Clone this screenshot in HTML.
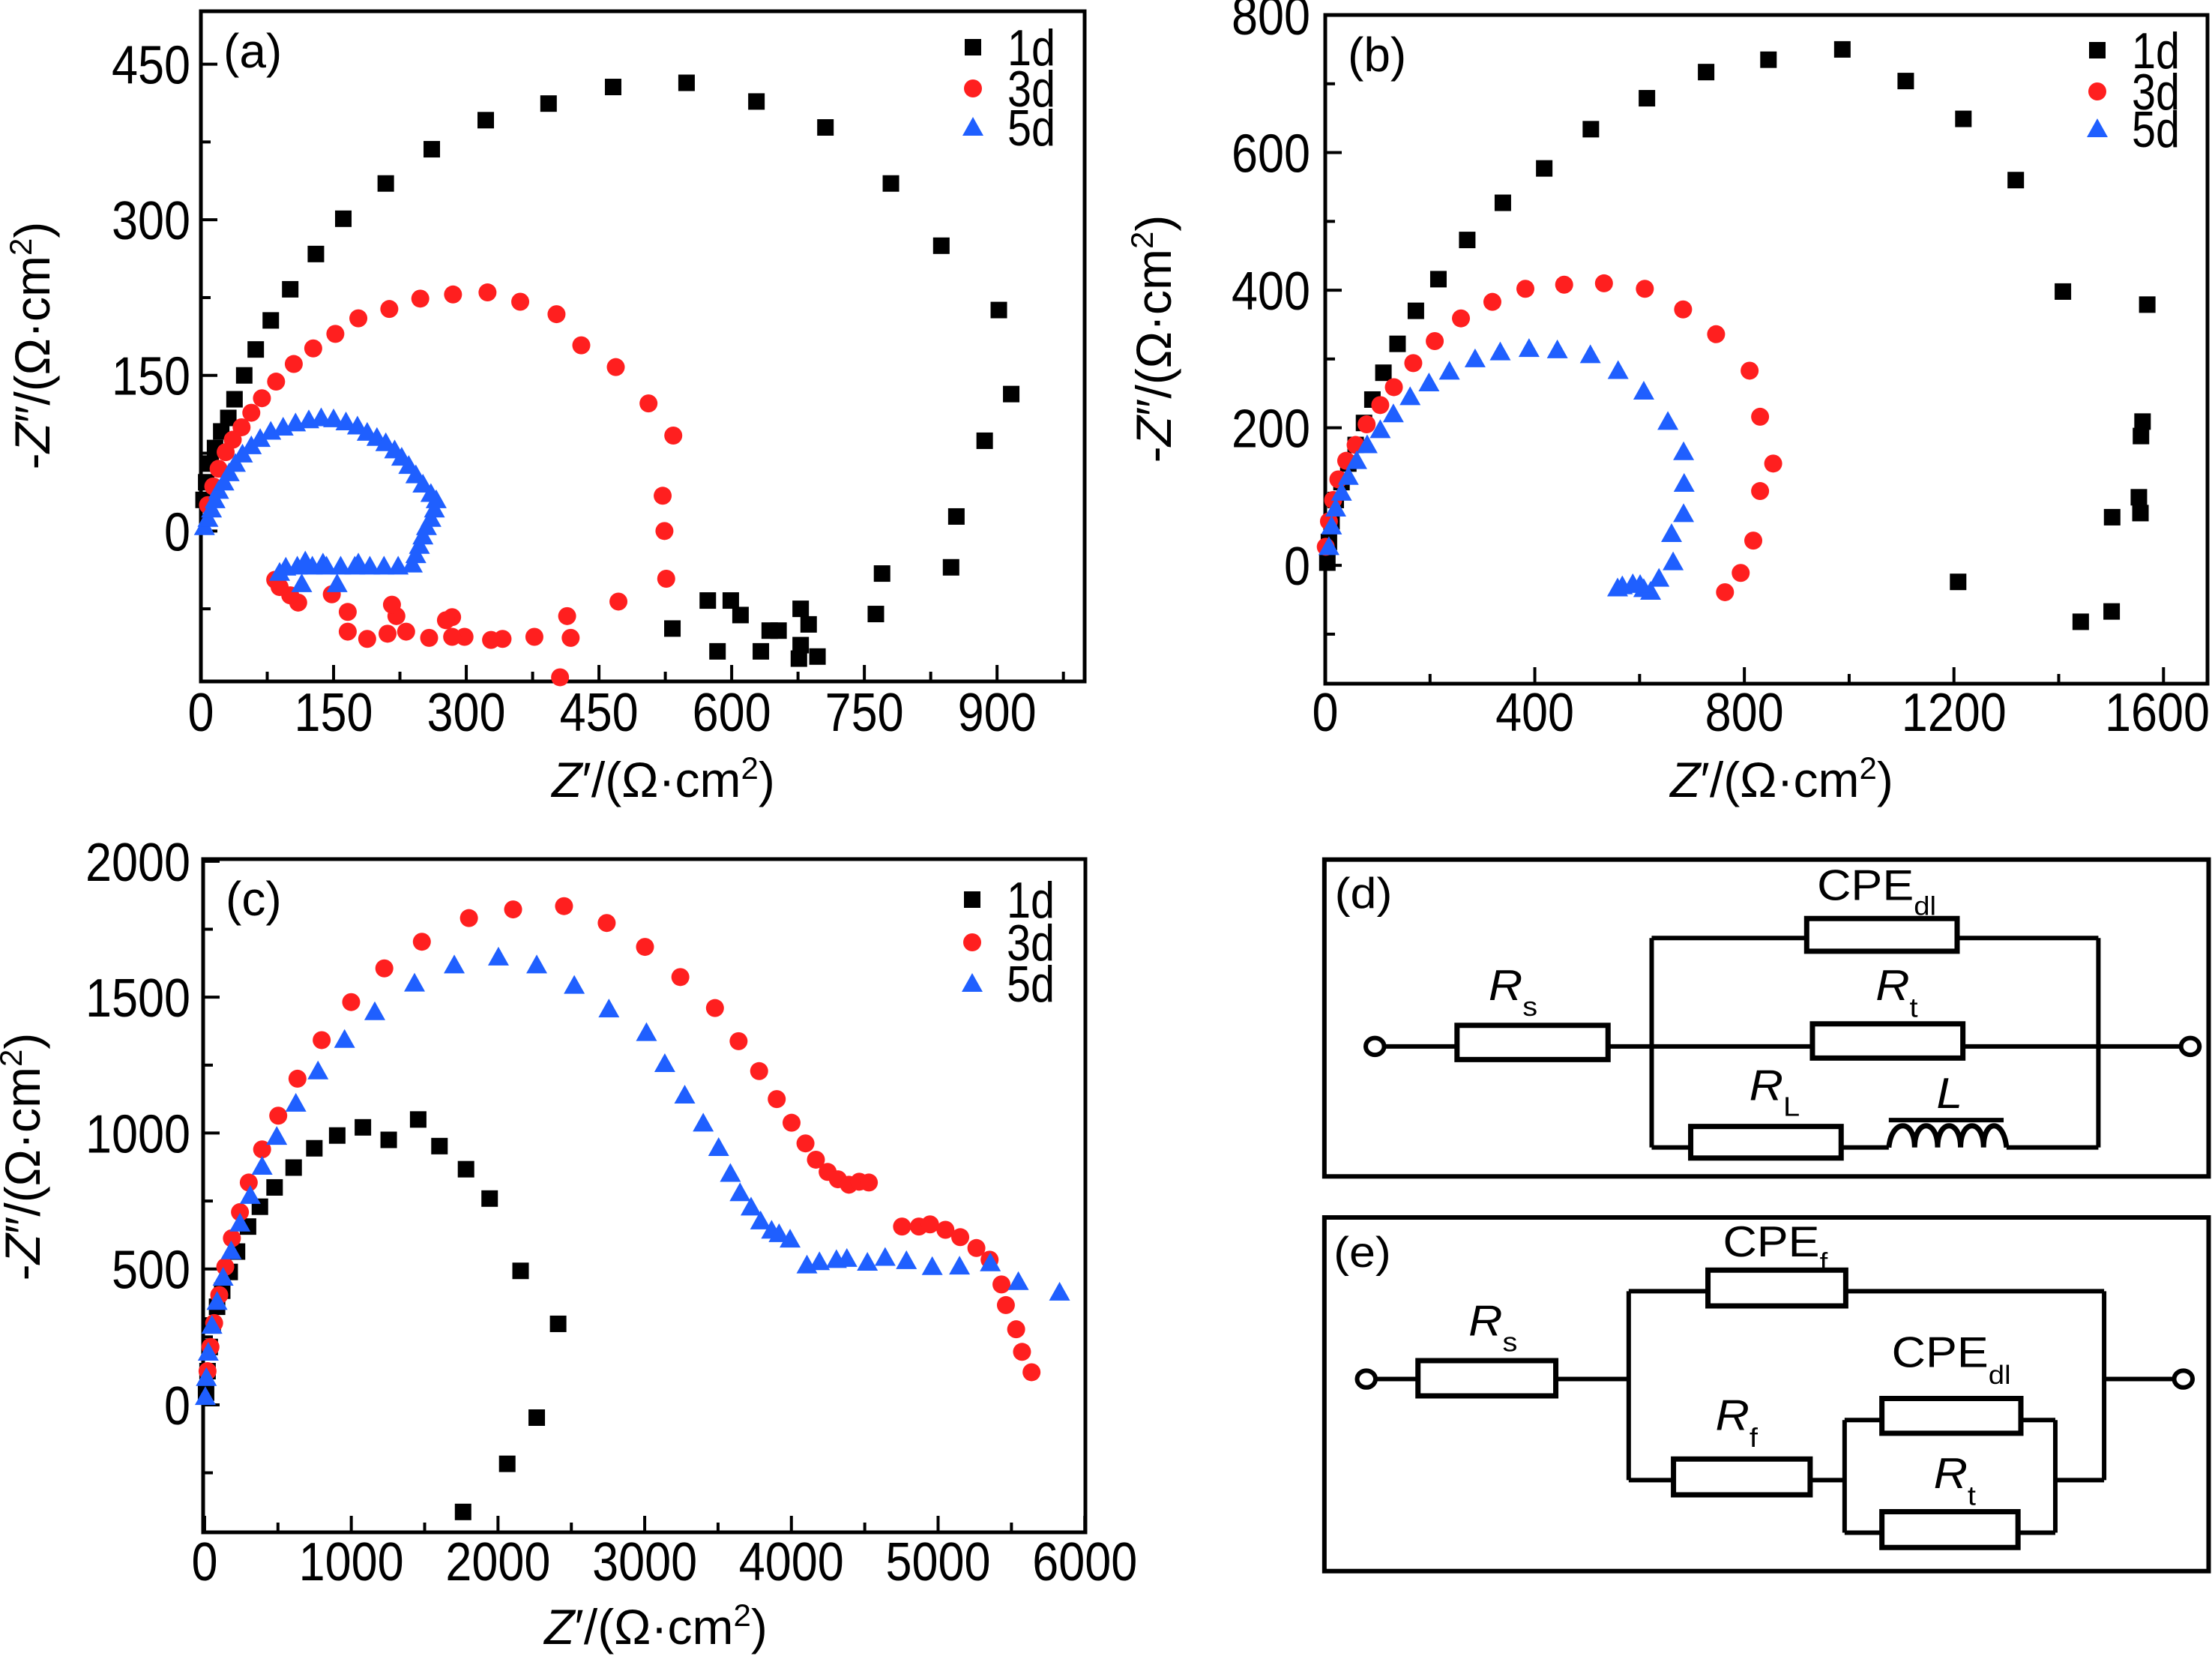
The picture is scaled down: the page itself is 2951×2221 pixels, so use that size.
<!DOCTYPE html>
<html><head><meta charset="utf-8"><style>
html,body{margin:0;padding:0;background:#fff}
svg{display:block}
text{font-family:"Liberation Sans",Arial,sans-serif;fill:#000}
</style></head><body>
<svg id="fig" xmlns="http://www.w3.org/2000/svg" width="2951" height="2221" viewBox="0 0 2951 2221">
<g id="circuits" transform="translate(1750,1120) scale(0.766,0.702)" fill="none" stroke="#000">
 <g>
  <rect x="22" y="38" width="1540" height="602" stroke-width="6" vector-effect="non-scaling-stroke"/>
  <path stroke-width="6" vector-effect="non-scaling-stroke" d="M126,393H253 M516,393H872 M1134,393H1514 M592,187V585 M1370,187V585 M592,187H862 M1124,187H1370 M592,585H660 M922,585H1005 M1210,585H1370 M1005,533H1205"/>
  <circle cx="110" cy="393" r="16" stroke-width="6" vector-effect="non-scaling-stroke"/>
  <circle cx="1530" cy="393" r="16" stroke-width="6" vector-effect="non-scaling-stroke"/>
  <rect x="253" y="353" width="263" height="65" stroke-width="7" vector-effect="non-scaling-stroke"/>
  <rect x="872" y="350" width="262" height="65" stroke-width="7" vector-effect="non-scaling-stroke"/>
  <rect x="862" y="150" width="262" height="62" stroke-width="7" vector-effect="non-scaling-stroke"/>
  <rect x="660" y="545" width="262" height="60" stroke-width="7" vector-effect="non-scaling-stroke"/>
  <path stroke-width="7" vector-effect="non-scaling-stroke" d="M1005,585 C1010,530 1050,530 1050,585 C1050,530 1090,530 1090,585 C1090,530 1130,530 1130,585 C1130,530 1170,530 1170,585 C1170,530 1205,530 1210,585"/>
 </g>
 <g stroke="none" fill="#000" font-size="82">
  <text x="40" y="130">(d)</text>
  <text x="880" y="115">CPE<tspan font-size="50" dy="28">dl</tspan></text>
  <text x="308" y="305"><tspan font-style="italic">R</tspan><tspan font-size="52" dy="30">s</tspan></text>
  <text x="982" y="305"><tspan font-style="italic">R</tspan><tspan font-size="52" dy="32">t</tspan></text>
  <text x="762" y="495"><tspan font-style="italic">R</tspan><tspan font-size="52" dy="30">L</tspan></text>
  <text x="1088" y="510" font-style="italic">L</text>
 </g>
 <g>
  <rect x="22" y="718" width="1540" height="672" stroke-width="6" vector-effect="non-scaling-stroke"/>
  <path stroke-width="6" vector-effect="non-scaling-stroke" d="M111,1025H185 M425,1025H552 M552,858V1217 M1380,858V1217 M1380,1025H1502 M552,858H690 M930,858H1380 M552,1217H630 M868,1217H928 M928,1103V1317 M1295,1103V1317 M1295,1217H1380 M928,1103H993 M1235,1103H1295 M928,1317H993 M1230,1317H1295"/>
  <circle cx="95" cy="1025" r="16" stroke-width="6" vector-effect="non-scaling-stroke"/>
  <circle cx="1518" cy="1025" r="16" stroke-width="6" vector-effect="non-scaling-stroke"/>
  <rect x="185" y="990" width="240" height="67" stroke-width="7" vector-effect="non-scaling-stroke"/>
  <rect x="690" y="818" width="240" height="68" stroke-width="7" vector-effect="non-scaling-stroke"/>
  <rect x="630" y="1177" width="238" height="68" stroke-width="7" vector-effect="non-scaling-stroke"/>
  <rect x="993" y="1062" width="242" height="66" stroke-width="7" vector-effect="non-scaling-stroke"/>
  <rect x="993" y="1277" width="237" height="68" stroke-width="7" vector-effect="non-scaling-stroke"/>
 </g>
 <g stroke="none" fill="#000" font-size="82">
  <text x="38" y="812">(e)</text>
  <text x="716" y="792">CPE<tspan font-size="50" dy="28">f</tspan></text>
  <text x="273" y="942"><tspan font-style="italic">R</tspan><tspan font-size="52" dy="30">s</tspan></text>
  <text x="1010" y="1002">CPE<tspan font-size="50" dy="32">dl</tspan></text>
  <text x="703" y="1122"><tspan font-style="italic">R</tspan><tspan font-size="52" dy="32">f</tspan></text>
  <text x="1083" y="1232"><tspan font-style="italic">R</tspan><tspan font-size="52" dy="32">t</tspan></text>
 </g>
</g>
</svg>
<script>
// ---- Panel (a) data ----
const a1dX=[549,466,628,393,322,706,261,780,209,161,130,101,79,62,49,38,31,23,16,11,6,3,837,902,916,886,854,848,770,763,678,687,678,697,676,643,653,633,610,599,573,584,533];
const a1dY=[432,428,414,412,396,389,368,335,335,301,267,233,203,175,150,127,109,96,80,65,47,30,275,213,132,87,14,-35,-41,-80,-75,-90,-110,-121,-123,-96,-96,-116,-81,-67,-67,-116,-94];
const a3dX=[324,285,248,361,213,402,178,152,127,105,85,69,57,46,36,28,20,14,8,430,469,506,534,522,524,526,472,414,418,377,341,328,298,284,277,284,258,232,221,216,211,188,166,166,148,110,101,89,84,406];
const a3dY=[230,228,224,221,214,209,205,190,176,161,144,128,114,100,88,76,60,43,25,179,158,123,92,34,0,-46,-68,-82,-103,-102,-104,-105,-102,-83,-86,-102,-103,-97,-82,-71,-99,-104,-97,-78,-61,-69,-62,-54,-47,-141];
const a5dX=[4,8,12,16,20,26,32,39,47,57,67,79,93,107,122,136,150,164,177,188,199,209,219,227,235,243,251,260,266,264,260,255,251,247,243,239,223,207,191,174,158,142,126,109,96,89,114,154,118,138,178];
const a5dY=[4,12,21,30,39,47,56,65,74,82,89,96,100,104,107,109,108,105,101,95,90,85,78,71,63,54,45,36,30,21,12,4,-5,-14,-23,-32,-34,-34,-34,-34,-34,-34,-34,-34,-35,-40,-51,-51,-29,-31,-31];
const aXTicks=[0,150,300,450,600,750,900];
const aYTicks=[0,150,300,450];
// ---- Panel (b) data ----
const b1dX=[987,846,727,614,1108,1218,507,1318,418,339,271,216,173,138,111,90,74,58,44,31,20,12,7,4,1408,1569,1560,1557,1553,1556,1502,1208,1501,1442];
const b1dY=[750,735,717,679,704,649,634,560,577,527,473,416,370,322,280,241,207,175,148,121,95,64,34,4,398,379,209,188,99,76,70,-24,-67,-82];
const b3dX=[532,456,382,610,319,683,259,746,209,810,168,131,830,105,855,79,830,58,40,25,15,7,1,817,793,763];
const b3dY=[410,408,402,402,383,372,359,336,326,283,294,259,216,233,148,205,108,175,152,125,95,64,27,36,-11,-39];
const b5dX=[389,443,334,506,286,559,237,198,608,162,130,654,105,80,684,60,44,685,31,20,12,7,684,661,664,637,621,587,567,558,608,601];
const b5dY=[315,313,310,306,300,283,282,265,253,245,220,209,197,175,165,152,129,119,106,83,57,27,75,46,5,-19,-38,-27,-30,-33,-34,-28];
const bXTicks=[0,400,800,1200,1600];
const bYTicks=[0,200,400,600,800];
// ---- Panel (c) data ----
const c1dX=[1456,1079,1255,904,1601,748,1782,607,1943,477,377,296,221,171,120,85,55,35,20,10,2154,2410,2264,2063,1762];
const c1dY=[1050,1021,975,991,952,944,867,873,759,800,729,656,564,489,420,361,292,213,124,45,493,298,-47,-217,-394];
const c3dX=[2450,2103,1802,2741,1481,3002,1225,3243,999,3479,798,3640,633,3780,502,3900,392,4001,301,4096,241,4167,186,4247,141,4317,100,4392,65,4463,4528,40,20,4754,4869,4945,5050,5151,5261,5351,5432,5462,5532,5572,5637];
const c3dY=[1835,1823,1791,1773,1704,1685,1606,1574,1482,1460,1342,1338,1200,1228,1064,1125,940,1038,818,962,709,902,613,857,508,830,404,810,301,821,818,213,124,656,656,664,644,617,577,534,443,367,278,195,120];
const c5dX=[2003,1702,2264,1431,2520,1160,2756,954,3012,773,3137,622,3273,492,3399,392,3504,311,3584,241,3650,181,3725,126,3790,85,3865,50,3916,25,3991,4106,4191,4307,4378,4518,4639,4784,4960,5146,5356,5547,5828,12,5];
const c5dY=[1647,1618,1618,1551,1543,1446,1456,1344,1369,1228,1255,1109,1139,987,1036,877,946,770,851,668,780,566,727,469,676,380,642,292,629,193,609,514,526,534,538,524,542,530,508,510,522,453,414,100,30];
const cXTicks=[0,1000,2000,3000,4000,5000,6000];
const cYTicks=[0,500,1000,1500,2000];

const svg=document.getElementById('fig');
const NS='http://www.w3.org/2000/svg';
function mk(tag,attrs,parent){const e=document.createElementNS(NS,tag);for(const k in attrs)e.setAttribute(k,attrs[k]);(parent||svg).appendChild(e);return e;}

function panel(cfg){
  const g=mk('g',{});
  
  
  const sx=v=>cfg.L+(v-cfg.x0)*(cfg.R-cfg.L)/(cfg.x1-cfg.x0);
  const sy=v=>cfg.B-(v-cfg.y0)*(cfg.B-cfg.T)/(cfg.y1-cfg.y0);
  const fr=mk('rect',{x:cfg.L,y:cfg.T,width:cfg.R-cfg.L,height:cfg.B-cfg.T,fill:'none',stroke:'#000','stroke-width':5},g);
  
  
  const xstep=cfg.xt[1]-cfg.xt[0];
  for(let v=cfg.xt[0];v<=cfg.x1+1e-6;v+=xstep/2){
    const major=Math.abs((v/xstep)-Math.round(v/xstep))<1e-6;
    const t=mk('line',{x1:sx(v),x2:sx(v),y1:cfg.B,y2:cfg.B-(major?22:13),stroke:'#000','stroke-width':4},g);
    
    
  }
  const ystep=cfg.yt[1]-cfg.yt[0];
  for(let v=Math.ceil(cfg.y0/(ystep/2))*(ystep/2);v<=cfg.y1+1e-6;v+=ystep/2){
    const major=Math.abs((v/ystep)-Math.round(v/ystep))<1e-6;
    const t=mk('line',{x1:cfg.L,x2:cfg.L+(major?22:13),y1:sy(v),y2:sy(v),stroke:'#000','stroke-width':4},g);
    
    
  }
  cfg.xt.forEach(v=>{
    const s=String(v);
    const w=s.length*35;
    let cx=sx(v);
    if(cx+w/2>2948)cx=2948-w/2;
    const t=mk('text',{x:cx,y:cfg.xlabY,'text-anchor':'middle','font-size':72,textLength:w,lengthAdjust:'spacingAndGlyphs'},g);
    t.textContent=s;
    
    
  });
  cfg.yt.forEach(v=>{
    const s=String(v);
    const t=mk('text',{x:cfg.ylabX,y:sy(v)+26,'text-anchor':'end','font-size':72,textLength:s.length*35,lengthAdjust:'spacingAndGlyphs'},g);
    t.textContent=s;
    
    
  });
  const xt=mk('text',{x:cfg.xtX,y:cfg.xtY,'text-anchor':'middle','font-size':66},g);
  xt.innerHTML='<tspan font-style="italic">Z</tspan>′/(Ω·cm<tspan font-size="42" dy="-24">2</tspan><tspan dy="24">)</tspan>';
  
  
  const yt=mk('text',{x:0,y:0,'text-anchor':'middle','font-size':66,transform:`translate(${cfg.ytX},${cfg.ytY}) rotate(-90)`},g);
  yt.innerHTML='-<tspan font-style="italic">Z</tspan>″/(Ω·cm<tspan font-size="42" dy="-24">2</tspan><tspan dy="24">)</tspan>';
  
  
  const pl=mk('text',{x:cfg.L+30,y:cfg.T+75,'font-size':64},g);
  pl.textContent='('+cfg.id+')';
  
  
  const series=[
    {name:'1d',xs:cfg.d1x,ys:cfg.d1y,color:'#000',shape:'sq'},
    {name:'3d',xs:cfg.d3x,ys:cfg.d3y,color:'#ff1f1f',shape:'ci'},
    {name:'5d',xs:cfg.d5x,ys:cfg.d5y,color:'#1f5fff',shape:'tr'}];
  function marker(shape,x,y,color,parent){
    if(shape==='sq')return mk('rect',{x:x-11,y:y-11,width:22,height:22,fill:color},parent);
    if(shape==='ci')return mk('circle',{cx:x,cy:y,r:12,fill:color},parent);
    return mk('path',{d:`M${x},${y-14}L${x+14},${y+11}L${x-14},${y+11}Z`,fill:color},parent);
  }
  series.forEach((s,i)=>{
    const sg=mk('g',{},g);
    
    
    s.xs.forEach((xv,j)=>{
      const m=marker(s.shape,sx(xv),sy(s.ys[j]),s.color,sg);
      
      
    });
    const lm=marker(s.shape,cfg.legX,cfg.legY[i],s.color,g);
    
    
    const lt=mk('text',{x:cfg.legX+46,y:cfg.legY[i]+24,'font-size':68,textLength:64,lengthAdjust:'spacingAndGlyphs'},g);
    lt.textContent=s.name;
    
    
  });
}
panel({id:'a',L:268,R:1447,T:15,B:909,x0:0,x1:999,y0:-145,y1:501,xt:aXTicks,yt:aYTicks,
  xlabY:975,ylabX:254,xtX:885,xtY:1063,ytX:66,ytY:461,legX:1298,legY:[63,118,170],
  d1x:a1dX,d1y:a1dY,d3x:a3dX,d3y:a3dY,d5x:a5dX,d5y:a5dY});
panel({id:'b',L:1768,R:2945,T:20,B:912,x0:0,x1:1684,y0:-172,y1:800,xt:bXTicks,yt:bYTicks,
  xlabY:975,ylabX:1748,xtX:2377,xtY:1063,ytX:1562,ytY:452,legX:2798,legY:[67,122,172],
  d1x:b1dX,d1y:b1dY,d3x:b3dX,d3y:b3dY,d5x:b5dX,d5y:b5dY});
panel({id:'c',L:271,R:1448,T:1146,B:2044,x0:-10,x1:6004,y0:-469,y1:2008,xt:cXTicks,yt:cYTicks,
  xlabY:2108,ylabX:254,xtX:875,xtY:2193,ytX:53,ytY:1543,legX:1297,legY:[1200,1257,1312],
  d1x:c1dX,d1y:c1dY,d3x:c3dX,d3y:c3dY,d5x:c5dX,d5y:c5dY});
</script>
</body></html>
